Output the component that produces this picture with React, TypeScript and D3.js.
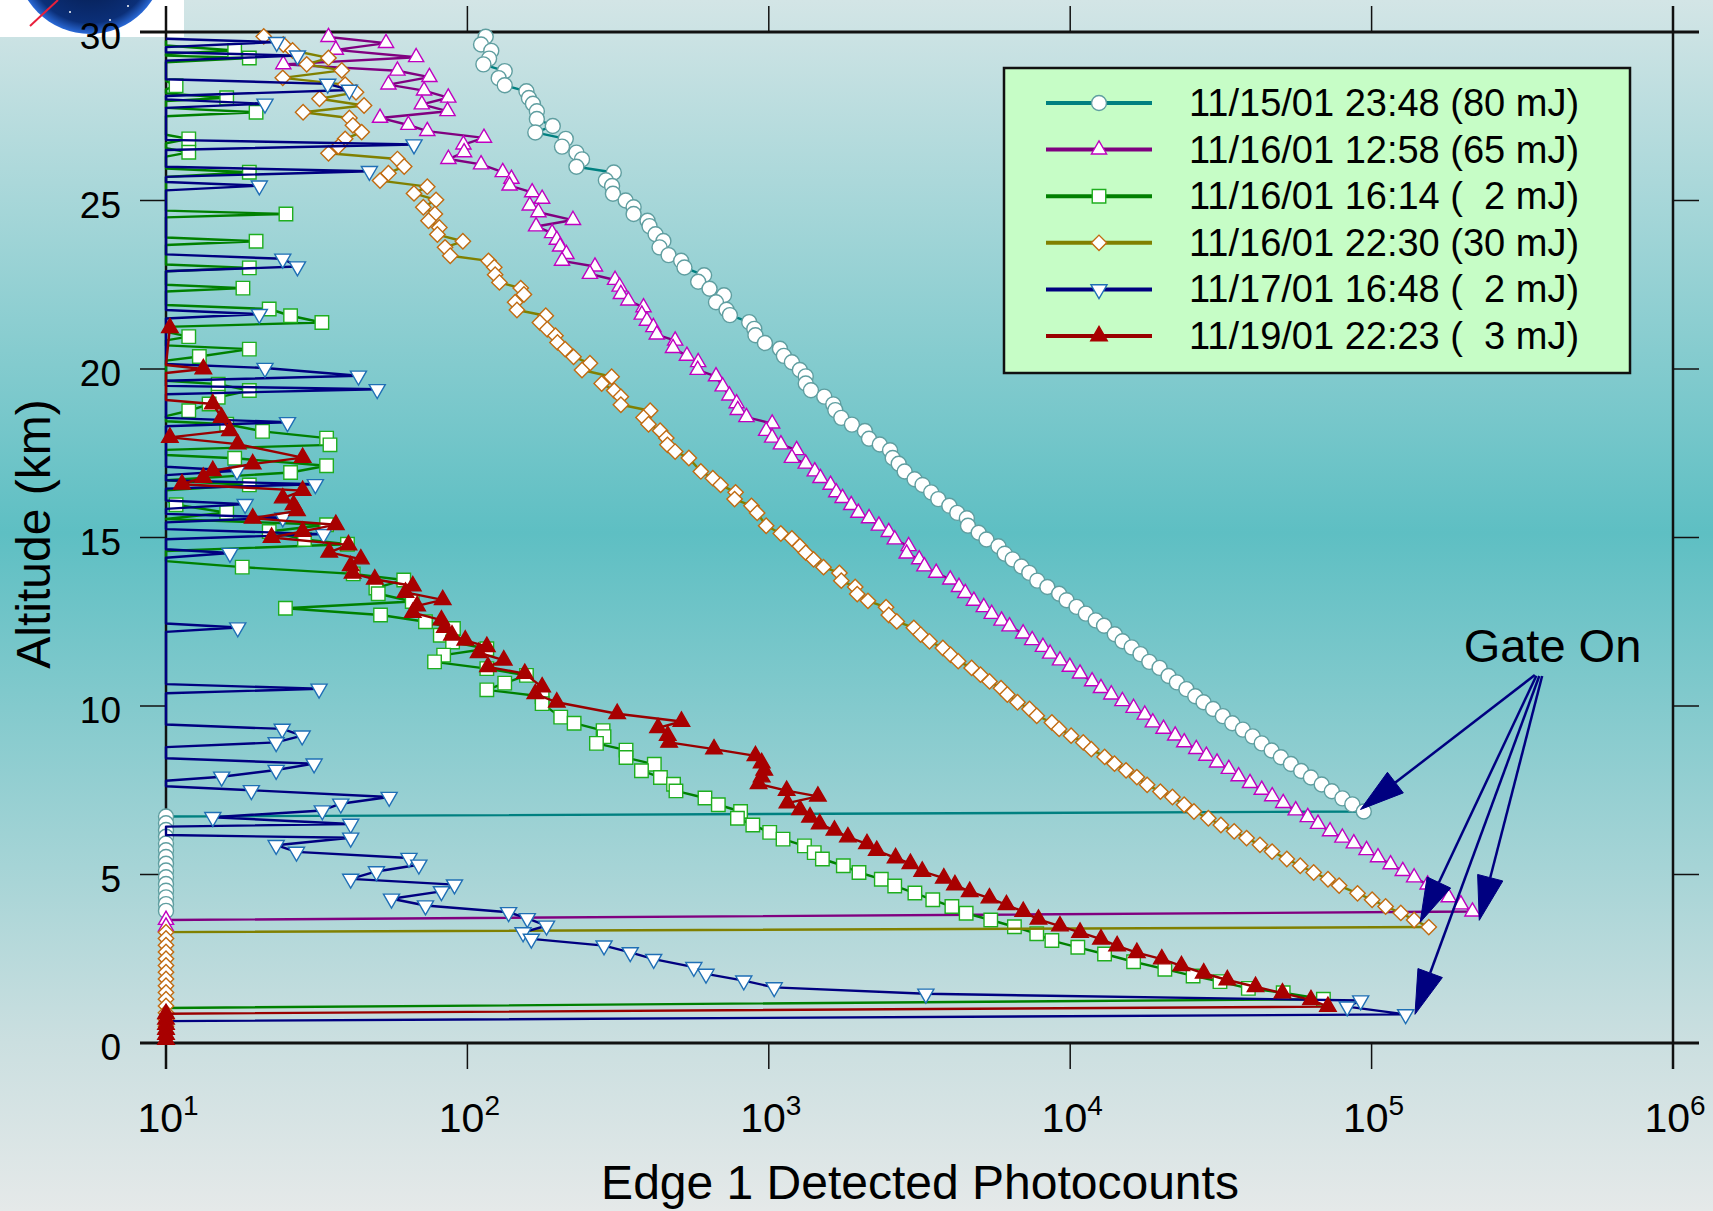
import { useMemo } from "react";
import * as d3 from "d3";

// [altitude km, photocounts]; counts below 10 sit under the axis floor (line clamped, no marker)
type Pt = [number, number];

const xExponents = [1, 2, 3, 4, 5, 6];
const yTicks = [0, 5, 10, 15, 20, 25, 30];

const legendLabels = [
  "11/15/01 23:48 (80 mJ)",
  "11/16/01 12:58 (65 mJ)",
  "11/16/01 16:14 (  2 mJ)",
  "11/16/01 22:30 (30 mJ)",
  "11/17/01 16:48 (  2 mJ)",
  "11/19/01 22:23 (  3 mJ)",
];

const run1548: Pt[] = [
  [29.86, 115], [29.63, 111], [29.44, 120], [29.21, 118], [29.04, 113], [28.84, 133], [28.63, 127], [28.42, 133],
  [28.24, 157], [28.04, 160], [27.87, 165], [27.65, 170], [27.42, 170], [27.21, 192], [27.02, 168], [26.83, 212],
  [26.6, 206], [26.42, 230], [26.22, 240], [26.0, 230], [25.83, 306], [25.6, 288], [25.43, 302], [25.2, 304],
  [25.0, 335], [24.8, 356], [24.6, 356], [24.4, 396], [24.24, 402], [24.0, 421], [23.8, 447], [23.61, 434],
  [23.38, 465], [23.21, 512], [23.01, 525], [22.78, 610], [22.59, 583], [22.38, 636], [22.19, 710], [21.98, 668],
  [21.76, 724], [21.6, 743], [21.39, 861], [21.19, 895], [21.0, 903], [20.77, 971], [20.6, 1089], [20.39, 1122],
  [20.2, 1193], [19.97, 1268], [19.78, 1326], [19.57, 1326], [19.37, 1380], [19.18, 1528], [18.95, 1637], [18.78, 1662],
  [18.55, 1740], [18.35, 1887], [18.16, 2084], [17.93, 2150], [17.76, 2335], [17.59, 2525], [17.36, 2577], [17.19, 2698],
  [16.96, 2823], [16.73, 3046], [16.56, 3236], [16.34, 3458], [16.14, 3650], [15.94, 3972], [15.73, 4220], [15.57, 4540],
  [15.35, 4580], [15.14, 4970], [14.94, 5275], [14.74, 5780], [14.52, 6065], [14.35, 6444], [14.14, 6890], [13.95, 7316],
  [13.72, 7777], [13.53, 8400], [13.33, 9190], [13.14, 9730], [12.94, 10500], [12.74, 11270], [12.54, 12150], [12.38, 12950],
  [12.13, 14060], [11.92, 14920], [11.74, 16000], [11.54, 17110], [11.31, 18300], [11.13, 19800], [10.89, 21200], [10.7, 22600],
  [10.5, 24300], [10.29, 26000], [10.11, 27700], [9.91, 29800], [9.7, 32100], [9.49, 34500], [9.3, 37400], [9.1, 40300],
  [8.89, 43200], [8.68, 46600], [8.48, 50000], [8.28, 54000], [8.07, 58400], [7.88, 62900], [7.67, 68300], [7.47, 73800],
  [7.26, 80000], [7.08, 86300], [6.87, 94200],
  [6.72, 10], [6.52, 10], [6.32, 10], [6.12, 10], [5.92, 10], [5.72, 10], [5.52, 10], [5.32, 10],
  [5.12, 10], [4.92, 10], [4.72, 10], [4.52, 10], [4.32, 10], [4.12, 10], [3.92, 10],
];

const run1258: Pt[] = [
  [29.85, 34.6], [29.67, 53.7], [29.47, 36.6], [29.25, 67.6], [29.04, 24.5], [28.85, 58.6], [28.66, 74.8], [28.44, 54.7],
  [28.26, 71.8], [28.05, 86.4], [27.85, 70.6], [27.65, 85.9], [27.45, 51.3], [27.24, 63.7], [27.06, 73.6], [26.86, 113.5],
  [26.66, 97], [26.43, 97.5], [26.23, 86.5], [26.07, 111], [25.84, 131], [25.64, 140], [25.44, 138], [25.24, 164],
  [25.05, 177], [24.85, 161], [24.65, 172], [24.42, 224], [24.23, 169], [24.03, 191], [23.83, 198], [23.63, 203],
  [23.41, 213], [23.21, 206], [23.04, 265], [22.82, 255], [22.64, 309], [22.44, 320], [22.22, 323], [22.03, 342],
  [21.83, 384], [21.61, 379], [21.43, 394], [21.24, 414], [21.02, 425], [20.84, 489], [20.62, 481], [20.39, 535],
  [20.2, 583], [19.97, 581], [19.78, 668], [19.48, 703], [19.21, 740], [18.98, 782], [18.78, 789], [18.57, 843],
  [18.38, 1026], [18.16, 980], [17.96, 1026], [17.76, 1097], [17.59, 1237], [17.36, 1193], [17.19, 1326], [16.96, 1421],
  [16.76, 1484], [16.56, 1603], [16.34, 1674], [16.17, 1757], [15.96, 1877], [15.73, 1982], [15.57, 2151], [15.35, 2319],
  [15.16, 2500], [14.94, 2618], [14.74, 2911], [14.52, 2867], [14.35, 3155], [14.14, 3283], [13.95, 3593], [13.75, 4000],
  [13.53, 4276], [13.35, 4487], [13.12, 4791], [12.93, 5168], [12.73, 5491], [12.53, 5919], [12.36, 6290], [12.15, 6980],
  [11.95, 7480], [11.75, 8120], [11.55, 8580], [11.35, 9250], [11.16, 9970], [10.96, 10780], [10.73, 11820], [10.53, 12650],
  [10.34, 13690], [10.14, 14900], [9.94, 16230], [9.74, 17680], [9.51, 18800], [9.32, 20400], [9.12, 22300], [8.92, 23900],
  [8.72, 26200], [8.52, 28300], [8.32, 30700], [8.13, 33600], [7.91, 36200], [7.71, 39500], [7.51, 43200], [7.32, 46800],
  [7.12, 50900], [6.9, 56000], [6.7, 61400], [6.5, 66400], [6.28, 72800], [6.09, 80000], [5.92, 87300], [5.72, 96200],
  [5.51, 105000], [5.3, 115600], [5.1, 126900], [4.91, 138400], [4.7, 153400], [4.51, 166000], [4.32, 180300], [4.11, 197800],
  [3.9, 216100],
  [3.65, 10], [3.45, 10],
];

const run1614: Pt[] = [
  [29.75, 9], [29.6, 9], [29.45, 16.9], [29.35, 9], [29.3, 9], [29.23, 18.9], [29.1, 9], [28.55, 9],
  [28.41, 10.8], [28.3, 9], [28.18, 9], [28.05, 15.9], [27.95, 9], [27.75, 9], [27.62, 19.9], [27.5, 9],
  [26.95, 9], [26.83, 11.9], [26.7, 9], [26.55, 9], [26.43, 11.9], [26.3, 9], [25.95, 9], [25.84, 18.9],
  [25.7, 9], [24.7, 9], [24.6, 25], [24.5, 9], [23.9, 9], [23.79, 19.9], [23.68, 9], [23.1, 9],
  [23.0, 18.9], [22.9, 9], [22.5, 9], [22.4, 18], [22.3, 9], [21.9, 9], [21.78, 22], [21.58, 25.9],
  [21.38, 32.9], [21.25, 9], [21.1, 9], [20.96, 11.9], [20.85, 9], [20.7, 9], [20.59, 18.9], [20.37, 12.9],
  [20.25, 9], [19.65, 9], [19.55, 14.9], [19.36, 18.9], [19.16, 14.9], [18.96, 13.9], [18.76, 11.9], [18.6, 9],
  [18.45, 9], [18.36, 15.9], [18.15, 20.9], [17.95, 34.1], [17.75, 35], [17.6, 9], [17.45, 9], [17.35, 16.9],
  [17.13, 34.1], [16.93, 25.9], [16.7, 9], [16.56, 18.9], [16.4, 9], [16.1, 9], [15.97, 10.8], [15.74, 15.9],
  [15.55, 9], [15.38, 34.1], [15.18, 22], [14.94, 28.8], [14.8, 40], [14.6, 9], [14.3, 9], [14.12, 17.9],
  [13.92, 41.8], [13.74, 61.5], [13.5, 49.7], [13.33, 50.6], [13.1, 65.6], [12.9, 24.9], [12.7, 51.5], [12.5, 72.6],
  [12.3, 89.9], [12.1, 81.3], [11.9, 89.3], [11.7, 116], [11.51, 83.4], [11.31, 77.8], [11.11, 116], [10.91, 157],
  [10.68, 133], [10.48, 116], [10.28, 177], [10.07, 177], [9.67, 204], [9.49, 226], [9.27, 282], [9.09, 284],
  [8.89, 268], [8.69, 336], [8.47, 336], [8.27, 417], [8.08, 378], [7.88, 437], [7.68, 483], [7.48, 492],
  [7.27, 614], [7.07, 680], [6.87, 806], [6.67, 787], [6.47, 885], [6.25, 1007], [6.05, 1115], [5.85, 1313],
  [5.65, 1415], [5.46, 1506], [5.26, 1767], [5.06, 1992], [4.86, 2362], [4.66, 2617], [4.45, 3053], [4.25, 3500],
  [4.05, 4050], [3.85, 4516], [3.65, 5450], [3.45, 6530], [3.24, 7745], [3.04, 8695], [2.84, 10600], [2.64, 13000],
  [2.41, 16230], [2.19, 20610], [1.99, 25570], [1.82, 31400], [1.62, 39000], [1.49, 50900], [1.3, 69200],
  [1.04, 9], [0.8, 9], [0.5, 9], [0.2, 9],
];

const run2230: Pt[] = [
  [29.87, 21.1], [29.63, 24.5], [29.45, 26.3], [29.23, 34.6], [29.04, 29.3], [28.86, 38.3], [28.64, 24.4], [28.44, 39.3],
  [28.21, 42.7], [28.02, 32.3], [27.82, 45.4], [27.62, 28.5], [27.45, 40.6], [27.23, 41.7], [27.03, 44.6], [26.83, 39.3],
  [26.6, 37.3], [26.4, 34.6], [26.23, 58.6], [26.01, 61.7], [25.81, 54.7], [25.59, 51.3], [25.41, 73.6], [25.21, 66.5],
  [25.02, 78.7], [24.8, 71.4], [24.6, 78], [24.4, 74.3], [24.2, 80.7], [23.99, 79.5], [23.79, 96.6], [23.61, 84.3],
  [23.36, 87.7], [23.21, 117.5], [23.02, 122.8], [22.8, 123.6], [22.57, 127.7], [22.4, 150.3], [22.21, 154], [21.98, 144],
  [21.75, 146], [21.58, 182], [21.38, 174], [21.18, 184], [20.99, 196], [20.79, 199], [20.59, 211], [20.36, 225],
  [20.17, 255], [19.97, 240], [19.77, 301], [19.57, 279], [19.36, 307], [19.18, 323], [18.94, 323], [18.76, 404],
  [18.56, 384], [18.36, 399], [18.17, 436], [17.95, 457], [17.75, 461], [17.55, 489], [17.36, 543], [16.96, 595],
  [16.76, 652], [16.56, 692], [16.34, 776], [16.14, 770], [15.94, 876], [15.73, 915], [15.35, 980], [15.12, 1096],
  [14.97, 1193], [14.74, 1268], [14.55, 1326], [14.35, 1408], [14.12, 1519], [13.95, 1715], [13.72, 1740], [13.53, 1935],
  [13.32, 1965], [13.12, 2133], [12.93, 2449], [12.7, 2501], [12.51, 2659], [12.32, 3028], [12.12, 3190], [11.92, 3413],
  [11.72, 3780], [11.52, 4010], [11.33, 4250], [11.13, 4710], [10.93, 5040], [10.73, 5400], [10.53, 5895], [10.34, 6185],
  [10.11, 6685], [9.91, 7330], [9.71, 7745], [9.51, 8695], [9.32, 9190], [9.12, 10070], [8.92, 11050], [8.72, 11750],
  [8.49, 13010], [8.29, 14030], [8.09, 15320], [7.89, 16640], [7.66, 18000], [7.46, 19920], [7.3, 21840], [7.07, 23880],
  [6.87, 25740], [6.67, 28730], [6.47, 31620], [6.28, 35000], [6.08, 38480], [5.88, 42620], [5.68, 46760], [5.46, 52330],
  [5.26, 57980], [5.06, 64240], [4.86, 71660], [4.67, 78040], [4.44, 89800], [4.25, 100400], [4.05, 111300], [3.86, 125000],
  [3.65, 138400], [3.44, 154800],
  [3.29, 10], [3.1, 10], [2.9, 10], [2.7, 10], [2.5, 10], [2.3, 10], [2.1, 10], [1.9, 10],
  [1.7, 10], [1.5, 10], [1.3, 10], [1.1, 10], [0.9, 10], [0.7, 10], [0.5, 10], [0.3, 10],
];

const run1648: Pt[] = [
  [29.8, 9], [29.7, 23.3], [29.55, 9], [29.4, 9], [29.3, 27.3], [29.15, 9], [28.6, 9], [28.46, 34.4],
  [28.28, 40.6], [28.1, 9], [28.0, 9], [27.87, 21.3], [27.75, 9], [26.8, 9], [26.66, 66.5], [26.5, 9],
  [26.0, 9], [25.87, 47.3], [25.7, 9], [25.55, 9], [25.44, 20.4], [25.3, 9], [23.4, 9], [23.27, 24.4],
  [23.04, 27.3], [22.9, 9], [21.75, 9], [21.63, 20.4], [21.5, 9], [20.15, 9], [20.03, 21.3], [19.8, 43.5],
  [19.65, 9], [19.5, 9], [19.4, 50.2], [19.25, 9], [18.55, 9], [18.42, 25.3], [18.3, 9], [17.1, 9],
  [16.98, 17.2], [16.85, 9], [16.7, 9], [16.58, 31.3], [16.45, 9], [16.1, 9], [15.99, 18.3], [15.85, 9],
  [15.7, 9], [15.59, 24.4], [15.45, 9], [15.25, 9], [15.1, 33.3], [14.95, 9], [14.65, 9], [14.54, 16.3],
  [14.4, 9], [12.45, 9], [12.33, 17.3], [12.2, 9], [10.65, 9], [10.51, 32.2], [10.38, 9], [9.45, 9],
  [9.32, 24.3], [9.12, 28.3], [8.92, 23.2], [8.78, 9], [8.45, 9], [8.29, 31], [8.1, 23.2], [7.9, 15.3],
  [7.78, 9], [7.62, 9], [7.5, 19.2], [7.3, 55], [7.1, 38], [6.9, 33], [6.7, 14.3], [6.5, 41],
  [6.42, 9], [6.17, 9], [6.09, 41], [5.87, 23.2], [5.67, 27.1], [5.49, 64], [5.29, 69], [5.09, 49.9],
  [4.87, 41], [4.7, 90.6], [4.5, 82], [4.28, 56], [4.08, 72.6], [3.88, 137], [3.7, 158], [3.48, 183],
  [3.28, 153], [3.09, 163], [2.89, 284], [2.69, 347], [2.49, 415], [2.25, 564], [2.05, 619], [1.85, 826],
  [1.65, 1042], [1.46, 3320], [1.26, 92000], [1.08, 83000], [0.85, 129700],
  [0.65, 9], [0.4, 9], [0.15, 9],
];

const run2223: Pt[] = [
  [21.22, 10.3], [20.12, 9], [20.0, 13.3], [19.88, 9], [19.08, 9], [18.96, 14.3], [18.56, 15.3], [18.17, 16.3],
  [17.97, 10.3], [17.77, 17.3], [17.37, 28.4], [17.18, 19.4], [16.98, 14.3], [16.78, 13.3], [16.58, 11.3], [16.39, 28.4],
  [16.17, 24.4], [15.97, 26.5], [15.79, 27.2], [15.57, 19.4], [15.38, 36.6], [15.18, 28.4], [15.0, 22.4], [14.78, 40.3],
  [14.56, 34.8], [14.36, 44.3], [14.16, 41], [13.94, 41.6], [13.76, 49.3], [13.56, 65.9], [13.37, 62.3], [13.15, 82.8],
  [12.97, 68.1], [12.77, 65.9], [12.55, 82], [12.33, 84.2], [12.1, 88.9], [11.95, 98.4], [11.76, 116], [11.58, 109],
  [11.36, 132], [11.16, 117], [10.96, 155], [10.56, 177], [10.36, 168], [10.11, 198], [9.77, 314], [9.54, 513],
  [9.35, 429], [9.12, 462], [8.92, 467], [8.72, 658], [8.52, 903], [8.31, 947], [8.09, 966], [7.89, 947],
  [7.69, 925], [7.49, 1146], [7.32, 1455], [7.12, 1153], [6.92, 1270], [6.7, 1370], [6.5, 1475], [6.31, 1651],
  [6.11, 1830], [5.91, 2117], [5.71, 2281], [5.49, 2634], [5.32, 2950], [5.09, 3229], [4.89, 3808], [4.69, 4145],
  [4.49, 4641], [4.3, 5396], [4.1, 6144], [3.9, 6985], [3.67, 7847], [3.47, 9247], [3.28, 10780], [3.08, 12650],
  [2.88, 14310], [2.68, 16640], [2.49, 20130], [2.29, 23390], [2.07, 27730], [1.87, 33210], [1.67, 41200], [1.48, 50600],
  [1.28, 62930], [1.08, 71630],
  [0.87, 10], [0.7, 10], [0.55, 10], [0.4, 10], [0.25, 10], [0.1, 10],
];

// "Gate On" arrows: tail and tip in data space
const gateTails: Pt[] = [[10.92, 348000], [10.9, 352000], [10.89, 368000], [10.89, 360000]];
const gateTips: Pt[] = [[6.93, 91900], [3.58, 144900], [3.64, 227600], [0.85, 139300]];

const FONT = "'Liberation Sans', Arial, Helvetica, sans-serif";

export default function App() {
  const width = 1713;
  const height = 1211;
  const plot = { left: 166, right: 1673, top: 32, bottom: 1043 };

  const x = useMemo(() => d3.scaleLog().domain([10, 1e6]).range([plot.left, plot.right]).clamp(true), []);
  const y = useMemo(() => d3.scaleLinear().domain([0, 30]).range([plot.bottom, plot.top]), []);

  const line = d3
    .line<Pt>()
    .x((d) => x(d[1]))
    .y((d) => y(d[0]));

  const circle = d3.symbol().type(d3.symbolCircle).size(Math.PI * 7.5 * 7.5)()!;
  const tri = d3.symbol().type(d3.symbolTriangle).size(100)()!;
  const triBig = d3.symbol().type(d3.symbolTriangle).size(118)()!;
  const triDown = d3.symbol().type(d3.symbolTriangle).size(112)()!;
  const square = d3.symbol().type(d3.symbolSquare).size(182)()!;
  const diamond = d3.symbol().type(d3.symbolSquare).size(118)()!;

  const series = [
    { data: run1548, line: "#008080", sym: circle, rot: 0, fill: "#ffffff", stroke: "#5f9ea0" },
    { data: run1258, line: "#800080", sym: tri, rot: 0, fill: "#ffffff", stroke: "#c000c0" },
    { data: run1614, line: "#008000", sym: square, rot: 0, fill: "#ffffff", stroke: "#1fae1f" },
    { data: run2230, line: "#808000", sym: diamond, rot: 45, fill: "#ffffff", stroke: "#c06a10" },
    { data: run1648, line: "#000080", sym: triDown, rot: 180, fill: "#ffffff", stroke: "#1f6fb5" },
    { data: run2223, line: "#990000", sym: triBig, rot: 0, fill: "#a80000", stroke: "#a80000" },
  ];

  const tick = 26;
  const legend = { x: 1004, y: 68, w: 626, h: 305, row0: 103, step: 46.6 };

  return (
    <svg
      width={width}
      height={height}
      style={{ position: "absolute", left: 0, top: 0, display: "block" }}
      fontFamily={FONT}
    >
      <defs>
        <linearGradient id="bg" x1="0" y1="0" x2="0" y2="1">
          <stop offset="0" stopColor="#d3e5e6" />
          <stop offset="0.44" stopColor="#5ebfc3" />
          <stop offset="0.86" stopColor="#cbdfe0" />
          <stop offset="1" stopColor="#e5e9e9" />
        </linearGradient>
        <radialGradient id="globe" cx="0.5" cy="0.5" r="0.5">
          <stop offset="0" stopColor="#04143a" />
          <stop offset="0.85" stopColor="#0b2f78" />
          <stop offset="1" stopColor="#2a6ad8" />
        </radialGradient>
        <clipPath id="logoClip">
          <rect x={0} y={0} width={184} height={37} />
        </clipPath>
      </defs>

      <rect x={0} y={0} width={width} height={height} fill="url(#bg)" />

      {/* logo corner */}
      <rect x={0} y={0} width={184} height={37} fill="#ffffff" />
      <g clipPath="url(#logoClip)">
        <circle cx={90} cy={-40} r={74} fill="url(#globe)" />
        <circle cx={70} cy={12} r={1} fill="#fff" />
        <circle cx={110} cy={20} r={1} fill="#fff" />
        <circle cx={128} cy={6} r={1} fill="#fff" />
        <line x1={30} y1={26} x2={58} y2={0} stroke="#e8203c" strokeWidth={2} />
      </g>

      {/* frame and ticks */}
      <g stroke="#111" fill="none">
        <line x1={plot.left} y1={plot.top - tick} x2={plot.left} y2={plot.bottom + tick} strokeWidth={2.5} />
        <line x1={plot.right} y1={plot.top - tick} x2={plot.right} y2={plot.bottom + tick} strokeWidth={2.5} />
        <line x1={plot.left - tick} y1={plot.top} x2={plot.right + tick} y2={plot.top} strokeWidth={3} />
        <line x1={plot.left - tick} y1={plot.bottom} x2={plot.right + tick} y2={plot.bottom} strokeWidth={3} />
        {xExponents.map((e) => (
          <g key={e}>
            <line x1={x(10 ** e)} x2={x(10 ** e)} y1={plot.top} y2={plot.top - tick} strokeWidth={1.5} />
            <line x1={x(10 ** e)} x2={x(10 ** e)} y1={plot.bottom} y2={plot.bottom + tick} strokeWidth={1.5} />
          </g>
        ))}
        {yTicks.map((v) => (
          <g key={v}>
            <line x1={plot.left} x2={plot.left - tick} y1={y(v)} y2={y(v)} strokeWidth={1.5} />
            <line x1={plot.right} x2={plot.right + tick} y1={y(v)} y2={y(v)} strokeWidth={1.5} />
          </g>
        ))}
      </g>

      {/* tick labels */}
      {yTicks.map((v) => (
        <text key={v} x={121} y={y(v) + 17} textAnchor="end" fontSize={37} fill="#000">
          {v}
        </text>
      ))}
      {xExponents.map((e) => (
        <text key={e} x={x(10 ** e) + 2} y={1132} textAnchor="middle" fontSize={41} fill="#000">
          <tspan>10</tspan>
          <tspan fontSize={28} dy={-17}>
            {e}
          </tspan>
        </text>
      ))}

      {/* axis titles */}
      <text x={920} y={1199} textAnchor="middle" fontSize={48} fill="#000">
        Edge 1 Detected Photocounts
      </text>
      <text transform="translate(50,534) rotate(-90)" textAnchor="middle" fontSize={48} fill="#000">
        Altitude (km)
      </text>

      {/* data */}
      {series.map((s, si) => (
        <g key={si}>
          <path d={line(s.data) ?? ""} fill="none" stroke={s.line} strokeWidth={2.4} strokeLinejoin="round" />
          {s.data
            .filter((d) => d[1] >= 10)
            .map((d, i) => (
              <path
                key={i}
                d={s.sym}
                transform={`translate(${x(d[1])},${y(d[0])}) rotate(${s.rot})`}
                fill={s.fill}
                stroke={s.stroke}
                strokeWidth={1.4}
              />
            ))}
        </g>
      ))}

      {/* Gate On annotation */}
      <text x={x(202000)} y={y(11.3)} fontSize={47} fill="#000">
        Gate On
      </text>
      {gateTails.map((t, i) => {
        const x0 = x(t[1]);
        const y0 = y(t[0]);
        const x1 = x(gateTips[i][1]);
        const y1 = y(gateTips[i][0]);
        const len = Math.hypot(x1 - x0, y1 - y0);
        const ux = (x1 - x0) / len;
        const uy = (y1 - y0) / len;
        const hl = 44;
        const hw = 13;
        const bx = x1 - ux * hl;
        const by = y1 - uy * hl;
        const head = `M${x1},${y1}L${bx - uy * hw},${by + ux * hw}L${bx + uy * hw},${by - ux * hw}Z`;
        return (
          <g key={i}>
            <line x1={x0} y1={y0} x2={bx} y2={by} stroke="#000080" strokeWidth={2.5} />
            <path d={head} fill="#000080" stroke="#000080" strokeWidth={1} />
          </g>
        );
      })}

      {/* legend */}
      <rect x={legend.x} y={legend.y} width={legend.w} height={legend.h} fill="#c6fdc6" stroke="#111" strokeWidth={2.5} />
      {series.map((s, i) => {
        const cy = legend.row0 + i * legend.step;
        return (
          <g key={i}>
            <line x1={1046} x2={1152} y1={cy} y2={cy} stroke={s.line} strokeWidth={4} />
            <path d={s.sym} transform={`translate(1099,${cy}) rotate(${s.rot})`} fill={s.fill} stroke={s.stroke} strokeWidth={1.4} />
            <text x={1189} y={cy + 13} fontSize={38} fill="#000" style={{ whiteSpace: "pre" }}>
              {legendLabels[i]}
            </text>
          </g>
        );
      })}
    </svg>
  );
}
